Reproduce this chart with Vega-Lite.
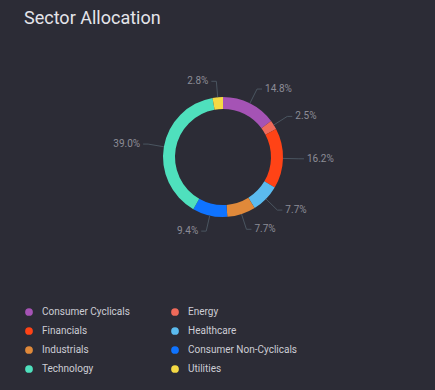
{
  "$schema": "https://vega.github.io/schema/vega-lite/v6.json",
  "autosize": "none",
  "padding": {"left": 11, "top": 40, "right": 0, "bottom": 116},
  "width": 424,
  "height": 234,
  "background": "#2c2c36",
  "config": {"view": {"stroke": null}},
  "title": {"text": "Sector Allocation", "anchor": "start", "frame": "group", "fontSize": 18, "font": "Roboto", "fontWeight": "normal", "color": "#e4e4ea", "dx": 13, "offset": 12},
  "data": {"values": [
    {"sector": "Consumer Cyclicals", "pct": 14.8, "ord": 1},
    {"sector": "Energy", "pct": 2.5, "ord": 2},
    {"sector": "Financials", "pct": 16.2, "ord": 3},
    {"sector": "Healthcare", "pct": 7.7, "ord": 4},
    {"sector": "Industrials", "pct": 7.7, "ord": 5},
    {"sector": "Consumer Non-Cyclicals", "pct": 9.4, "ord": 6},
    {"sector": "Technology", "pct": 39.0, "ord": 7},
    {"sector": "Utilities", "pct": 2.8, "ord": 8}
  ]},
  "transform": [
    {"joinaggregate": [{"op": "sum", "field": "pct", "as": "total"}]},
    {"window": [{"op": "sum", "field": "pct", "as": "cum"}], "sort": [{"field": "ord"}]},
    {"calculate": "(datum.cum - datum.pct / 2) / datum.total * 2 * PI", "as": "ang"},
    {"calculate": "60 * sin(datum.ang)", "as": "x0"},
    {"calculate": "60 * cos(datum.ang)", "as": "y0"},
    {"calculate": "76 * sin(datum.ang)", "as": "x1"},
    {"calculate": "76 * cos(datum.ang)", "as": "y1"},
    {"calculate": "sin(datum.ang) >= 0 ? 1 : -1", "as": "side"},
    {"calculate": "datum.x1 + 5 * datum.side", "as": "x2"},
    {"calculate": "datum.x2 + 3 * datum.side", "as": "xt"},
    {"calculate": "format(datum.pct, '.1f') + '%'", "as": "label"}
  ],
  "layer": [
    {
      "mark": {"type": "arc", "innerRadius": 48, "outerRadius": 60},
      "encoding": {
        "theta": {"field": "pct", "type": "quantitative", "stack": true},
        "order": {"field": "ord", "type": "quantitative"},
        "color": {
          "field": "sector", "type": "nominal",
          "scale": {
            "domain": ["Consumer Cyclicals", "Energy", "Financials", "Healthcare", "Industrials", "Consumer Non-Cyclicals", "Technology", "Utilities"],
            "range": ["#a553b5", "#ef6a5a", "#ff4316", "#5bbbef", "#e0893a", "#0f73ff", "#4fe0bd", "#f4d944"]
          },
          "legend": {"orient": "none", "legendX": 13, "legendY": 267, "direction": "horizontal", "columns": 2, "title": null, "symbolType": "circle", "symbolSize": 60, "labelFont": "Roboto", "labelFontSize": 10, "labelColor": "#cdcdd5", "rowPadding": 9, "columnPadding": 40, "labelOffset": 8, "symbolStrokeWidth": 0, "padding": 0}
        }
      }
    },
    {
      "mark": {"type": "rule", "color": "#4a5560", "strokeWidth": 1},
      "encoding": {
        "x": {"field": "x0", "type": "quantitative", "scale": {"domain": [-212, 212]}, "axis": null},
        "y": {"field": "y0", "type": "quantitative", "scale": {"domain": [-117, 117]}, "axis": null},
        "x2": {"field": "x1"},
        "y2": {"field": "y1"}
      }
    },
    {
      "mark": {"type": "rule", "color": "#4a5560", "strokeWidth": 1},
      "encoding": {
        "x": {"field": "x1", "type": "quantitative", "scale": {"domain": [-212, 212]}, "axis": null},
        "y": {"field": "y1", "type": "quantitative", "scale": {"domain": [-117, 117]}, "axis": null},
        "x2": {"field": "x2"}
      }
    },
    {
      "transform": [{"filter": "datum.side > 0"}],
      "mark": {"type": "text", "align": "left", "baseline": "middle", "font": "Roboto", "fontSize": 10, "color": "#8c8c96"},
      "encoding": {
        "x": {"field": "xt", "type": "quantitative", "scale": {"domain": [-212, 212]}, "axis": null},
        "y": {"field": "y1", "type": "quantitative", "scale": {"domain": [-117, 117]}, "axis": null},
        "text": {"field": "label"}
      }
    },
    {
      "transform": [{"filter": "datum.side < 0"}],
      "mark": {"type": "text", "align": "right", "baseline": "middle", "font": "Roboto", "fontSize": 10, "color": "#8c8c96"},
      "encoding": {
        "x": {"field": "xt", "type": "quantitative", "scale": {"domain": [-212, 212]}, "axis": null},
        "y": {"field": "y1", "type": "quantitative", "scale": {"domain": [-117, 117]}, "axis": null},
        "text": {"field": "label"}
      }
    }
  ]
}
